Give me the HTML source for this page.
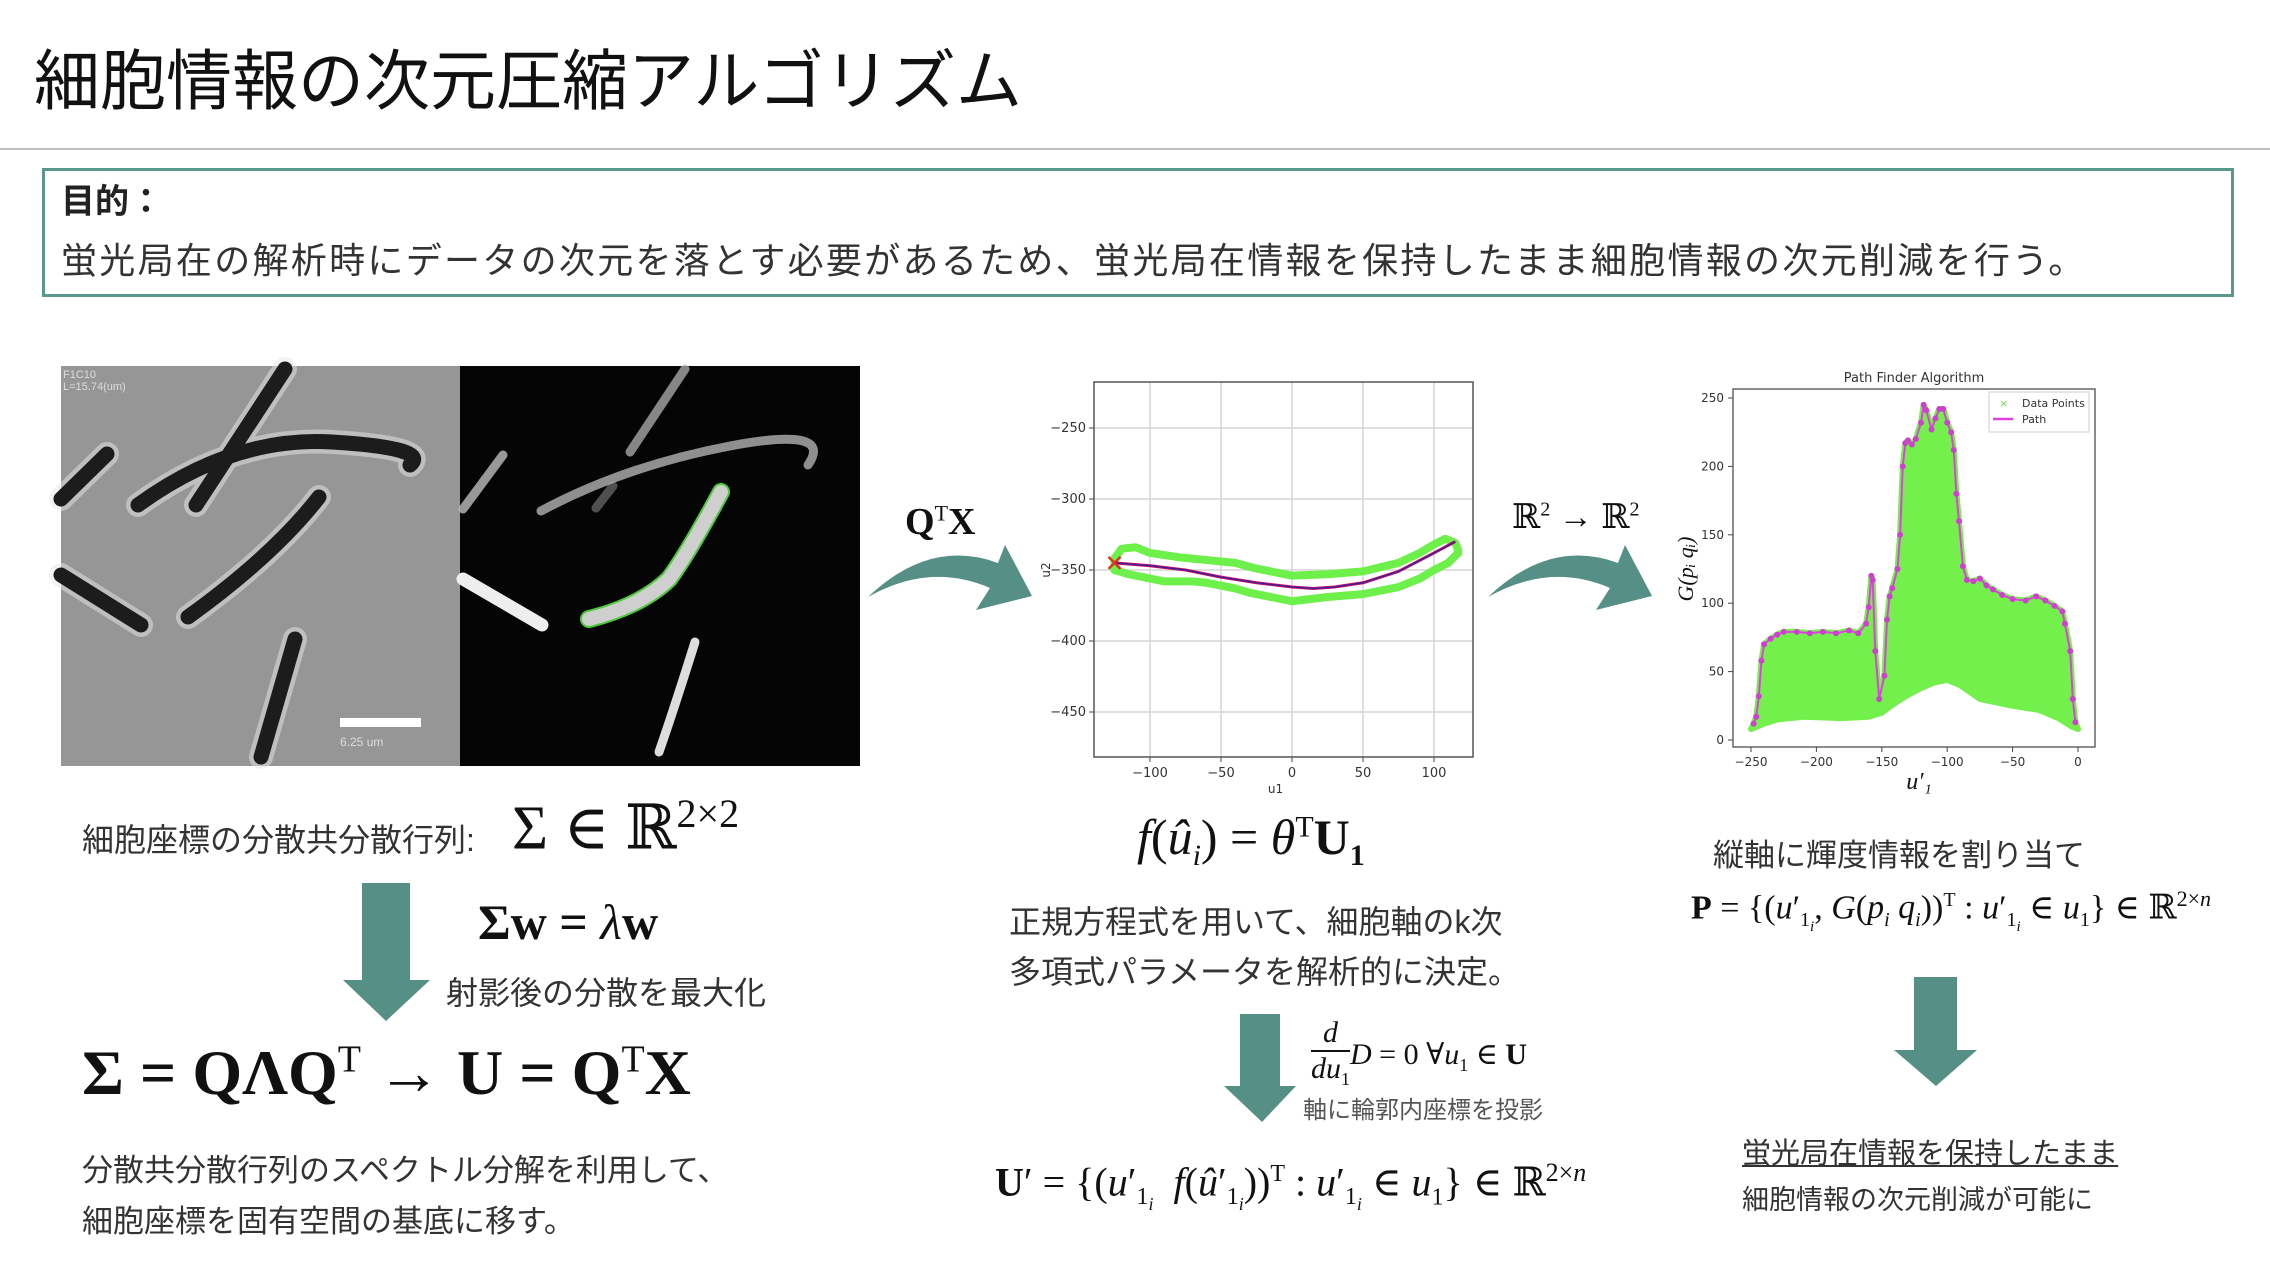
<!DOCTYPE html>
<html><head><meta charset="utf-8">
<style>
body{margin:0;width:2270px;height:1276px;background:#fff;position:relative;overflow:hidden;font-family:"Liberation Sans","Noto Sans CJK JP",sans-serif;color:#222}
.a{position:absolute;white-space:nowrap}
.jp{font-family:"Liberation Sans","Noto Sans CJK JP",sans-serif;color:#333}
.m{font-family:"Liberation Serif","DejaVu Serif",serif;color:#111}
svg{position:absolute;left:0;top:0}
</style></head><body>
<div class="a jp" style="left:34px;top:28px;font-size:66px;color:#111;">細胞情報の次元圧縮アルゴリズム</div>
<div class="a" style="left:0;top:148px;width:2270px;height:2px;background:#bdbdbd"></div>
<div class="a" style="left:42px;top:168px;width:2186px;height:123px;border:3px solid #5a978d"></div>
<div class="a jp" style="left:61px;top:174px;font-size:34px;font-weight:bold;color:#222">目的：</div>
<div class="a jp" style="left:61px;top:232px;font-size:36px;letter-spacing:2.3px;color:#333">蛍光局在の解析時にデータの次元を落とす必要があるため、蛍光局在情報を保持したまま細胞情報の次元削減を行う。</div>

<svg width="2270" height="1276">
 <g transform="translate(61,366)">
  <rect width="399" height="400" fill="#969696"/>
  <rect x="399" width="400" height="400" fill="#050505"/>
  <g stroke="#e8e8e8" stroke-width="24" fill="none" stroke-linecap="round" opacity="0.5">
   <path d="M224,3 L135,139"/><path d="M77,139 Q172,70 271,76 T349,99"/><path d="M46,88 L0,133"/><path d="M258,131 Q213,189 127,251"/><path d="M0,209 L80,259"/><path d="M234,273 L200,391"/>
  </g>
  <g stroke="#1c1c1c" stroke-width="15" fill="none" stroke-linecap="round">
   <path d="M224,3 L135,139"/><path d="M77,139 Q172,70 271,76 T349,99"/><path d="M46,88 L0,133"/><path d="M258,131 Q213,189 127,251"/><path d="M0,209 L80,259"/><path d="M234,273 L200,391"/>
  </g>
  <g stroke="#bdbdbd" stroke-width="9" fill="none" stroke-linecap="round">
   <path d="M624,3 L569,86" opacity="0.7"/><path d="M480,145 Q564,100 669,80 T747,99" opacity="0.75"/><path d="M442,89 L402,143" opacity="0.8"/><path d="M552,120 L535,142" opacity="0.4"/><path d="M402,213 L481,259" stroke="#eee" stroke-width="13"/><path d="M634,276 Q613,343 598,386" stroke="#ddd"/>
  </g>
  <path d="M660,126 Q626,189 608,213 Q580,240 528,253" stroke="#55e040" stroke-width="18" fill="none" stroke-linecap="round" opacity="0.9"/>
  <path d="M660,126 Q626,189 608,213 Q580,240 528,253" stroke="#cfcfcf" stroke-width="14" fill="none" stroke-linecap="round"/>
  <rect x="279" y="352" width="81" height="9" fill="#fff"/>
  <text x="279" y="380" font-size="12" fill="#ddd" font-family="Liberation Sans">6.25 um</text>
  <text x="2" y="12" font-size="11" fill="#ddd" font-family="Liberation Sans">F1C10</text>
  <text x="2" y="24" font-size="11" fill="#ddd" font-family="Liberation Sans">L=15.74(um)</text>
 </g>
 <path d="M868,597 Q930,538 998,563 L1005,545 L1032,596 L976,610 L990,588 Q930,562 868,597 Z" fill="#558f85"/>
 <path d="M1488,597 Q1550,538 1618,563 L1625,545 L1652,596 L1596,610 L1610,588 Q1550,562 1488,597 Z" fill="#558f85"/>
 <path d="M362,883 L410,883 L410,980 L430,980 L386,1021 L343,980 L362,980 Z" fill="#558f85"/>
 <path d="M1240,1014 L1280,1014 L1280,1086 L1296,1086 L1262,1122 L1224,1086 L1240,1086 Z" fill="#558f85"/>
 <path d="M1914,977 L1957,977 L1957,1050 L1977,1050 L1936,1086 L1894,1050 L1914,1050 Z" fill="#558f85"/>
 <g id="chart1"></g>
 <g id="chart2"></g>
</svg>

<div class="a m" style="left:905px;top:500px;font-size:38px;font-weight:bold">Q<sup style="font-size:22px;font-weight:normal">T</sup>X</div>
<div class="a m" style="left:1512px;top:497px;font-size:34px">ℝ<sup style="font-size:20px">2</sup> → ℝ<sup style="font-size:20px">2</sup></div>

<div class="a jp" style="left:82px;top:815px;font-size:32px">細胞座標の分散共分散行列:</div>
<div class="a m" style="left:512px;top:790px;font-size:62px">Σ ∈ ℝ<sup style="font-size:40px">2×2</sup></div>
<div class="a m" style="left:478px;top:893px;font-size:50px;font-weight:bold">Σw = <i style="font-weight:normal">λ</i>w</div>
<div class="a jp" style="left:446px;top:968px;font-size:32px">射影後の分散を最大化</div>
<div class="a m" style="left:82px;top:1036px;font-size:64px;font-weight:bold">Σ = QΛQ<sup style="font-size:38px;font-weight:normal">T</sup> → U = Q<sup style="font-size:38px;font-weight:normal">T</sup>X</div>
<div class="a jp" style="left:82px;top:1145px;font-size:31px">分散共分散行列のスペクトル分解を利用して、</div>
<div class="a jp" style="left:82px;top:1196px;font-size:31px">細胞座標を固有空間の基底に移す。</div>

<div class="a m" style="left:1137px;top:808px;font-size:50px"><i>f</i>(<i>û<sub style="font-size:30px">i</sub></i>) = <i>θ</i><sup style="font-size:30px">T</sup><b>U<sub style="font-size:30px">1</sub></b></div>
<div class="a jp" style="left:1009px;top:897px;font-size:32px">正規方程式を用いて、細胞軸のk次</div>
<div class="a jp" style="left:1009px;top:947px;font-size:32px">多項式パラメータを解析的に決定。</div>
<div class="a m" style="left:1311px;top:1016px;font-size:30px;display:flex;align-items:center"><span style="display:inline-block;text-align:center;line-height:34px"><i>d</i><br><span style="border-top:2px solid #111;display:block"><i>du</i><sub style="font-size:18px">1</sub></span></span><span><i>D</i> = 0 ∀<i>u</i><sub style="font-size:18px">1</sub> ∈ <b>U</b></span></div>
<div class="a jp" style="left:1303px;top:1090px;font-size:24px;color:#555">軸に輪郭内座標を投影</div>
<div class="a m" style="left:995px;top:1158px;font-size:40px"><b>U</b>′ = {(<i>u</i>′<sub style="font-size:24px">1<sub style="font-size:18px"><i>i</i></sub></sub> &nbsp;<i>f</i>(<i>û</i>′<sub style="font-size:24px">1<sub style="font-size:18px"><i>i</i></sub></sub>))<sup style="font-size:24px">T</sup> : <i>u</i>′<sub style="font-size:24px">1<sub style="font-size:18px"><i>i</i></sub></sub> ∈ <i>u</i><sub style="font-size:24px">1</sub>} ∈ ℝ<sup style="font-size:26px">2×<i>n</i></sup></div>

<div class="a jp" style="left:1713px;top:830px;font-size:31px">縦軸に輝度情報を割り当て</div>
<div class="a m" style="left:1691px;top:886px;font-size:34px"><b>P</b> = {(<i>u</i>′<sub style="font-size:20px">1<sub style="font-size:15px"><i>i</i></sub></sub>, <i>G</i>(<i>p<sub style="font-size:20px">i</sub> q<sub style="font-size:20px">i</sub></i>))<sup style="font-size:20px">T</sup> : <i>u</i>′<sub style="font-size:20px">1<sub style="font-size:15px"><i>i</i></sub></sub> ∈ <i>u</i><sub style="font-size:20px">1</sub>} ∈ ℝ<sup style="font-size:22px">2×<i>n</i></sup></div>
<div class="a jp" style="left:1742px;top:1130px;font-size:29px;text-decoration:underline">蛍光局在情報を保持したまま</div>
<div class="a jp" style="left:1742px;top:1178px;font-size:27px">細胞情報の次元削減が可能に</div>

<script>
// ---- chart 1 data ----
const c1XTicks=[-100,-50,0,50,100];
const c1YTicks=[-250,-300,-350,-400,-450];
const c1CenterX=[-125,-100,-75,-50,-25,0,15,30,50,75,100,115];
const c1CenterY=[-345,-347,-350,-355,-359,-362,-363,-362,-359,-351,-338,-330];
const c1UpperX=[-125,-120,-110,-100,-80,-60,-40,-25,0,25,50,75,90,100,108,115,117];
const c1UpperY=[-342,-335,-334,-338,-341,-343,-345,-349,-354,-353,-351,-345,-338,-332,-328,-331,-336];
const c1LowerX=[-125,-115,-100,-90,-70,-60,-40,-30,-20,0,25,50,75,90,100,110,117];
const c1LowerY=[-350,-353,-356,-358,-358,-359,-363,-366,-368,-372,-369,-367,-362,-356,-350,-345,-338];
// ---- chart 2 data ----
const c2XTicks=[-250,-200,-150,-100,-50,0];
const c2YTicks=[0,50,100,150,200,250];
const c2PathX=[-248,-246,-244,-242,-240,-235,-230,-225,-215,-205,-195,-185,-175,-168,-162,-160,-158,-157,-155,-152,-148,-146,-144,-142,-138,-136,-134,-132,-130,-127,-124,-120,-118,-116,-112,-109,-106,-103,-100,-97,-95,-93,-91,-88,-85,-80,-75,-70,-65,-58,-50,-40,-32,-25,-18,-12,-10,-6,-4,-2];
const c2PathY=[12,17,32,58,70,74,77,79,79,78,79,78,80,78,85,97,120,117,65,30,47,88,105,111,125,150,200,217,219,216,220,232,245,241,227,235,242,242,232,225,212,180,160,127,117,116,118,113,110,106,103,102,105,102,98,94,85,65,30,13];
const c2LowX=[-250,-240,-230,-210,-180,-160,-150,-140,-130,-120,-110,-100,-90,-75,-50,-30,-15,-5,0];
const c2LowY=[8,12,15,17,16,17,20,27,33,38,42,44,40,30,25,22,16,10,8];

const NS='http://www.w3.org/2000/svg';
function mk(parent,tag,attrs){const e=document.createElementNS(NS,tag);for(const k in attrs)e.setAttribute(k,attrs[k]);parent.appendChild(e);return e;}
function lin(d0,d1,r0,r1){return v=>r0+(v-d0)/(d1-d0)*(r1-r0);}

// chart 1
(function(){
 const g=document.getElementById('chart1');
 const L=1094,R=1473,T=382,B=757;
 const x=lin(-100,100,1150,1434), y=lin(-250,-450,428,712);
 mk(g,'rect',{x:L,y:T,width:R-L,height:B-T,fill:'#fff'});
 c1XTicks.forEach(v=>{
  const l=mk(g,'line',{x1:x(v),x2:x(v),y1:T,y2:B,stroke:'#d6d6d6','stroke-width':1.5});
  
  
  mk(g,'line',{x1:x(v),x2:x(v),y1:B,y2:B+5,stroke:'#444'});
  const t=mk(g,'text',{x:x(v),y:B+20,'font-size':13,'text-anchor':'middle',fill:'#333','font-family':'DejaVu Sans'});
  t.textContent=String(v).replace('-','−');
  
  
 });
 c1YTicks.forEach(v=>{
  const l=mk(g,'line',{x1:L,x2:R,y1:y(v),y2:y(v),stroke:'#d6d6d6','stroke-width':1.5});
  
  
  mk(g,'line',{x1:L-5,x2:L,y1:y(v),y2:y(v),stroke:'#444'});
  const t=mk(g,'text',{x:L-8,y:y(v)+4,'font-size':13,'text-anchor':'end',fill:'#333','font-family':'DejaVu Sans'});
  t.textContent=String(v).replace('-','−');
  
  
 });
 mk(g,'rect',{x:L,y:T,width:R-L,height:B-T,fill:'none',stroke:'#555','stroke-width':1.5});
 const pts=(xs,ys)=>xs.map((v,i)=>x(v)+','+y(ys[i])).join(' ');
 const up=mk(g,'polyline',{points:pts(c1UpperX,c1UpperY),fill:'none',stroke:'#6ef04a','stroke-width':8,'stroke-linejoin':'round','stroke-linecap':'round'});
 
 
 const lo=mk(g,'polyline',{points:pts(c1LowerX,c1LowerY),fill:'none',stroke:'#6ef04a','stroke-width':8,'stroke-linejoin':'round','stroke-linecap':'round'});
 
 
 mk(g,'line',{x1:x(c1UpperX[0]),y1:y(c1UpperY[0]),x2:x(c1LowerX[0]),y2:y(c1LowerY[0]),stroke:'#6ef04a','stroke-width':8,'stroke-linecap':'round'});
 const last=c1UpperX.length-1, lastL=c1LowerX.length-1;
 mk(g,'line',{x1:x(c1UpperX[last]),y1:y(c1UpperY[last]),x2:x(c1LowerX[lastL]),y2:y(c1LowerY[lastL]),stroke:'#6ef04a','stroke-width':8,'stroke-linecap':'round'});
 const c=mk(g,'polyline',{points:pts(c1CenterX,c1CenterY),fill:'none',stroke:'#d01060','stroke-width':3});
 
 
 mk(g,'polyline',{points:pts(c1CenterX,c1CenterY),fill:'none',stroke:'#3020a0','stroke-width':1.3});
 const cx=x(c1CenterX[0]),cy=y(c1CenterY[0]);
 const m=mk(g,'path',{d:`M${cx-6},${cy-6}L${cx+6},${cy+6}M${cx-6},${cy+6}L${cx+6},${cy-6}`,stroke:'#e03020','stroke-width':2.5});
 
 
 const xl=mk(g,'text',{x:(L+R)/2-8,y:B+36,'font-size':12,'text-anchor':'middle',fill:'#333','font-family':'DejaVu Sans'});xl.textContent='u1';
 
 
 const yl=mk(g,'text',{x:0,y:0,'font-size':12,'text-anchor':'middle',fill:'#333','font-family':'DejaVu Sans',transform:`translate(${L-44},${y(-350)}) rotate(-90)`});yl.textContent='u2';
 
 
})();

// chart 2
(function(){
 const g=document.getElementById('chart2');
 const L=1733,R=2095,T=389,B=747;
 const x=lin(-250,0,1751,2078), y=lin(0,250,740,398);
 mk(g,'rect',{x:L,y:T,width:R-L,height:B-T,fill:'#fff',stroke:'#666','stroke-width':1.5});
 c2XTicks.forEach(v=>{
  mk(g,'line',{x1:x(v),x2:x(v),y1:B,y2:B+5,stroke:'#444'});
  const t=mk(g,'text',{x:x(v),y:B+19,'font-size':12,'text-anchor':'middle',fill:'#333','font-family':'DejaVu Sans'});
  t.textContent=String(v).replace('-','−');
  
  
 });
 c2YTicks.forEach(v=>{
  mk(g,'line',{x1:L-5,x2:L,y1:y(v),y2:y(v),stroke:'#444'});
  const t=mk(g,'text',{x:L-9,y:y(v)+4,'font-size':12,'text-anchor':'end',fill:'#333','font-family':'DejaVu Sans'});
  t.textContent=String(v);
  
  
 });
 const top=c2PathX.map((v,i)=>x(v)+','+y(c2PathY[i]));
 const bot=c2LowX.map((v,i)=>x(v)+','+y(c2LowY[i])).reverse();
 const area=mk(g,'polygon',{points:top.concat(bot).join(' '),fill:'#74f04c',stroke:'#74f04c','stroke-width':6,'stroke-linejoin':'round'});
 
 
 const p=mk(g,'polyline',{points:top.join(' '),fill:'none',stroke:'#e040e0','stroke-width':2});
 
 
 c2PathX.forEach((v,i)=>{
  const d=mk(g,'circle',{cx:x(v),cy:y(c2PathY[i]),r:3,fill:'#d040d0'});
  
  
 });
 const ti=mk(g,'text',{x:(L+R)/2,y:T-7,'font-size':13,'text-anchor':'middle',fill:'#333','font-family':'DejaVu Sans'});ti.textContent='Path Finder Algorithm';
 
 
 const lg=mk(g,'rect',{x:1989,y:392,width:100,height:40,fill:'#fff',stroke:'#ccc'});
 
 
 mk(g,'text',{x:1999,y:407,'font-size':11,fill:'#6ee04a','font-family':'DejaVu Sans'}).textContent='×';
 const l1=mk(g,'text',{x:2022,y:407,'font-size':11,fill:'#333','font-family':'DejaVu Sans'});l1.textContent='Data Points';
 
 
 mk(g,'line',{x1:1993,x2:2013,y1:419,y2:419,stroke:'#e040e0','stroke-width':2.5});
 const l2=mk(g,'text',{x:2022,y:423,'font-size':11,fill:'#333','font-family':'DejaVu Sans'});l2.textContent='Path';
 
 
 const xl=mk(g,'text',{x:(L+R)/2+5,y:B+42,'font-size':24,'text-anchor':'middle',fill:'#111','font-family':'Liberation Serif','font-style':'italic'});xl.textContent='u′₁';
 
 
 const yl=mk(g,'text',{x:0,y:0,'font-size':22,'text-anchor':'middle',fill:'#111','font-family':'Liberation Serif','font-style':'italic',transform:`translate(${L-40},${y(125)}) rotate(-90)`});yl.textContent='G(pᵢ qᵢ)';
 
 
})();
</script>
</body></html>
